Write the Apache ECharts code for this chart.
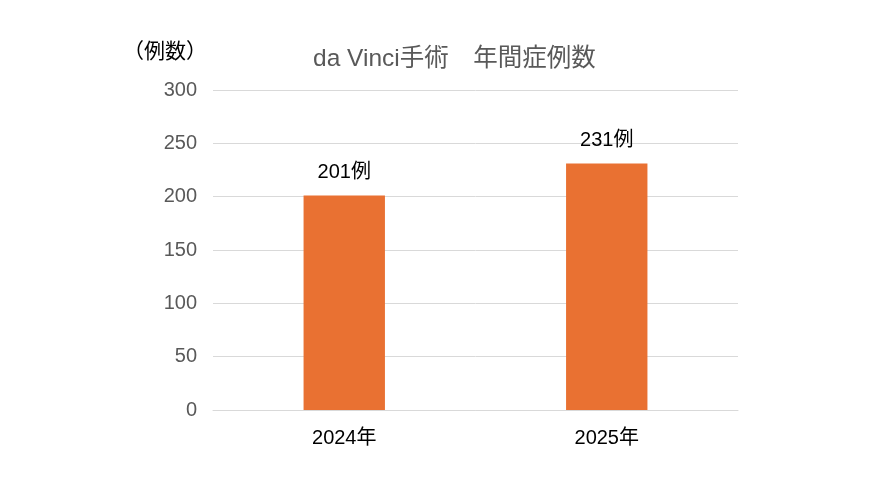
<!DOCTYPE html>
<html lang="ja">
<head>
	<meta charset="UTF-8">
	<title>da Vinci手術 年間症例数</title>
	<style type="text/css">
		html, body{ margin: 0; padding: 0; background: #fff; }
		.box{ width: 886px; height: 498px; }
	</style>
</head>
<body>
	<div class="box" id="main"></div>
	<script type="text/javascript" src="https://cdn.jsdelivr.net/npm/echarts@6/dist/echarts.min.js"></script>
	<script type="text/javascript">
		// データ
		var years = ['2024年', '2025年'];
		var cases = [201, 231];
		var yTicks = [0, 50, 100, 150, 200, 250, 300];

		var font = '"Liberation Sans", "Noto Sans CJK JP", sans-serif';
		var myChart = echarts.init(document.getElementById('main'));

		var option = {
			animation: false,
			textStyle: { fontFamily: font },
			title: {
				text: 'da Vinci手術　年間症例数',
				left: 308,
				top: 42,
				textStyle: { color: '#595959', fontSize: 24.5, fontWeight: 'normal', fontFamily: font }
			},
			grid: { left: 213, right: 148, top: 90, bottom: 88 },
			xAxis: {
				type: 'category',
				data: years,
				axisLine: { lineStyle: { color: '#d9d9d9' } },
				axisTick: { show: false },
				axisLabel: { color: '#000', fontSize: 20, margin: 18, fontFamily: font }
			},
			yAxis: {
				type: 'value',
				name: '（例数）',
				nameLocation: 'end',
				nameGap: 27,
				nameTextStyle: { color: '#000', fontSize: 21, align: 'right', padding: [0, 6, 0, 0], fontFamily: font },
				min: yTicks[0],
				max: yTicks[yTicks.length - 1],
				interval: 50,
				axisLine: { show: false },
				axisTick: { show: false },
				axisLabel: { color: '#595959', fontSize: 20, margin: 16, fontFamily: font },
				splitLine: { lineStyle: { color: '#d9d9d9' } }
			},
			series: [{
				type: 'bar',
				data: cases,
				barWidth: '31%',
				itemStyle: { color: '#E97132' },
				label: {
					show: true,
					position: 'top',
					distance: 13,
					color: '#000',
					fontSize: 20,
					fontFamily: font,
					formatter: '{c}例'
				}
			}]
		};
		myChart.setOption(option);
	</script>
</body>
</html>
